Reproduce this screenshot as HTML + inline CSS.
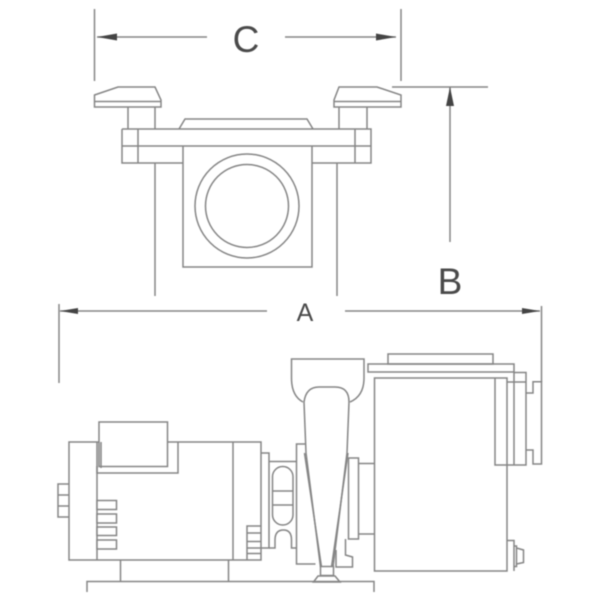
<!DOCTYPE html>
<html>
<head>
<meta charset="utf-8">
<style>
html,body{margin:0;padding:0;background:#fff;width:600px;height:600px;overflow:hidden}
svg{display:block}
.l{fill:none;stroke:#858585;stroke-width:1.5;stroke-linejoin:miter}
.w{fill:#fff;stroke:#858585;stroke-width:1.5}
text{font-family:"Liberation Sans",sans-serif;fill:#4a4a4a;text-anchor:middle}
.arrow{fill:#444;stroke:none}
</style>
</head>
<body>
<svg width="600" height="600" viewBox="0 0 600 600" xmlns="http://www.w3.org/2000/svg">
<g style="filter:blur(0.4px)">
<!-- dimension C -->
<path class="l" d="M94.5 9V81M401 9V81M97 37H207M285 37H396"/>
<path class="arrow" d="M97 37L117 33.500V40.500ZM396 37L376 33.500V40.500Z"/>
<text x="246" y="52" font-size="37">C</text>
<!-- dimension B -->
<path class="l" d="M392 87H488M450 87V242"/>
<path class="arrow" d="M450 87L446 106H454Z"/>
<text x="450" y="294" font-size="37">B</text>
<!-- dimension A -->
<path class="l" d="M59 304V383M541.500 306V382M60 311H267M345 311H540"/>
<path class="arrow" d="M60 311L78 308V314ZM540 311L522 308V314Z"/>
<text x="305" y="321" font-size="25">A</text>

<!-- top view -->
<path class="l" d="M94.500 95L118 87H155L161 100V107H94.500ZM94.500 101.500H161"/>
<path class="l" d="M339 87H377L401 95V107H334V100ZM334 101.500H401"/>
<path class="l" d="M128 107V129M155 107V129M339 107V129M367 107V129"/>
<path class="l" d="M179 129L185 119H307L313 129"/>
<path class="l" d="M122 129H371V163H312M183 163H122V129M122 146H371M138 129V163M355 129V163"/>
<path class="l" d="M183 146V267H312V146"/>
<circle class="l" cx="247" cy="206" r="52"/>
<circle class="l" cx="247" cy="206" r="41.500"/>
<path class="l" d="M155 163V296M337 163V296"/>

<!-- motor -->
<rect class="l" x="69" y="442" width="192" height="118"/>
<path class="l" d="M97 442V560M233 442V560"/>
<rect class="w" x="99" y="422" width="68.500" height="44.500"/>
<path class="l" d="M97 466V473H178V442M101 442V468"/>
<path class="l" d="M69 484H58V517H69M58 495H69M58 506H69"/>
<rect class="w" x="97" y="500.500" width="19.500" height="9"/>
<rect class="w" x="97" y="514" width="19.500" height="9"/>
<rect class="w" x="97" y="527" width="19.500" height="8.500"/>
<rect class="w" x="97" y="540" width="19.500" height="9"/>
<path class="l" d="M247 560V526H261M247 533H261M247 541.500H261M247 548H261M247 553.500H261"/>
<path class="l" d="M120.500 560V581.500M228.500 560V581.500"/>
<path class="l" d="M87 592V581.500H374V592"/>

<!-- adapter -->
<path class="l" d="M261 453H269V548H261M269 461.500H296.500"/>
<rect class="l" x="272.500" y="466.500" width="20.500" height="58.500" rx="10.200"/>
<path class="l" d="M272.500 491H293M272.500 505H293"/>
<path class="l" d="M269 548H275V540Q275 530 283.500 530Q291.500 530 291.500 540V548H296.500"/>
<path class="l" d="M306 444H296.500V564H315.500"/>

<!-- volute -->
<path class="l" d="M303 402Q291.500 396 291.500 378V359H364V378Q364 396 350 402"/>
<path class="l" d="M304 402Q306 387 319 387H335Q349 387 349 402L347 453L333 567"/>
<path class="l" d="M304 402L306 453L320.500 567"/>
<path class="l" d="M304.500 453L321.500 567M348 453L331.500 567"/>
<rect class="l" x="320.500" y="566.500" width="13" height="9"/>
<path class="l" d="M313.500 582L318 576H335L340 582H313.500Z"/>
<rect class="w" x="348.500" y="458" width="10" height="81"/>
<path class="l" d="M358.500 463.500H374.500M358.500 534H374.500"/>
<path class="l" d="M345.500 539V555L352.500 557V567H336V550"/>

<!-- pump body -->
<rect class="l" x="388" y="354" width="105" height="10"/>
<rect class="l" x="368" y="364" width="146" height="8"/>
<rect class="l" x="374.500" y="378" width="132.500" height="193"/>
<path class="l" d="M495 378V465H526V372.500H514V465M507 382H526M526 393H533V381.700H541.500V464H533V450H526"/>
<path class="l" d="M507 540.500H514V571M514 546H516.500V566.500H514M516.500 548L523.500 550V562.500L516.500 564"/>
</g>
</svg>
</body>
</html>
